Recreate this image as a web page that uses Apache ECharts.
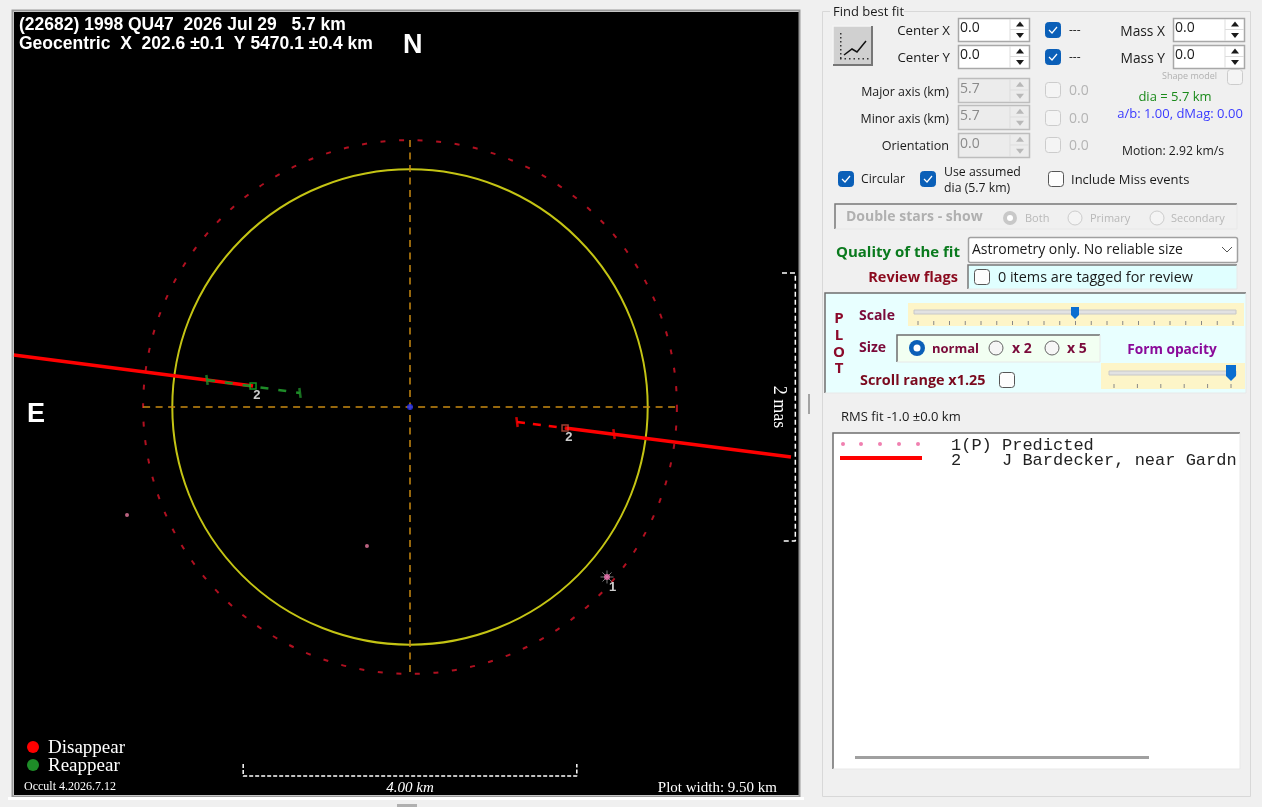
<!DOCTYPE html>
<html><head><meta charset="utf-8">
<style>html,body{margin:0;padding:0;background:#f0f0f0;overflow:hidden}#c{width:1262px;height:807px}</style>
<script src="https://cdn.jsdelivr.net/npm/echarts@6/dist/echarts.min.js"></script>
</head><body><div id="c"></div>
<script>
// ---- data, in km from the asteroid centre (x east-negative on screen, y north-up) ----
var circleRadii = [[0,0,2.85],[0,0,3.2]];
var crossH = [[-3.2,0],[3.2,0]];
var crossV = [[0,3.2],[0,-3.2]];
var leftSolid = [[-4.75,0.624],[-1.882,0.252]];
var leftDashed = [[-2.434,0.324],[-1.319,0.168]];
var rightDashed = [[1.283,-0.18],[1.859,-0.252]];
var rightSolid = [[1.859,-0.252],[4.568,-0.6]];
var reappearTicks = [[-2.434,0.324],[-1.319,0.168]];
var disappearTicks = [[1.283,-0.18],[2.446,-0.324]];
var reappearPoint = [[-1.882,0.252]];
var disappearPoint = [[1.859,-0.252]];
var extraDots = [[-3.393,-1.295],[-0.516,-1.667]];
var predicted = [[2.362,-2.038]];
var centre = [[0,0]];
var scaleBar = [[-2,-4.28],[-2,-4.424],[2,-4.424],[2,-4.28]];
var masBar = [[4.46,1.607],[4.62,1.607],[4.62,-1.607],[4.46,-1.607]];

var FONT = '"Open Sans","Noto Sans",sans-serif';
var g = [];
function T(t,x,y,o){o=o||{};var dy=o.f?0:1;g.push({type:'text',z:o.z||20,silent:true,x:x,y:y+dy,rotation:o.rot||0,style:{text:t,x:0,y:0,
  font:(o.w||'normal')+' '+(o.s||13)+'px '+(o.f||FONT),fill:o.c||'#1a1a1a',textAlign:o.a||'left',textVerticalAlign:'middle'}});}
function R(x,y,w,h,fill,stroke,lw,r){g.push({type:'rect',z:5,silent:true,shape:{x:x,y:y,width:w,height:h,r:r||0},style:{fill:fill||'none',stroke:stroke||'none',lineWidth:lw||1}});}
function L(pts,c,lw,z){g.push({type:'polyline',z:z||6,silent:true,shape:{points:pts},style:{stroke:c,lineWidth:lw||1,fill:'none'}});}
function C(x,y,r,fill,stroke,lw){g.push({type:'circle',z:6,silent:true,shape:{cx:x,cy:y,r:r},style:{fill:fill||'none',stroke:stroke||'none',lineWidth:lw||1}});}
function sunk(x,y,w,h,fill,c){R(x,y,w,h,fill);L([[x,y+h],[x,y],[x+w,y]],c||'#6e6e6e',1.5);L([[x+w,y],[x+w,y+h],[x,y+h]],'#e8e8e8',1);}
function check(x,y,on,dis){var s=15;R(x+.5,y+.5,s,s,on?'#0a5fb8':(dis?'#f4f4f4':'#fdfdfd'),on?'#0a5fb8':(dis?'#cccccc':'#555'),1,3);
  if(on)L([[x+4,y+8],[x+7,y+11],[x+12,y+5]],'#fff',1.2,7);}
function radio(x,y,on,dis){if(on&&dis){C(x,y,7,'#c8c8c8');C(x,y,3,'#fff');}
  else if(on){C(x,y,8,'#0a5fb8');C(x,y,3.5,'#fff');}
  else C(x,y,7,dis?'#f4f4f4':'#f6f6f6',dis?'#cccccc':'#666',1);}
function tri(x,y,up,c){g.push({type:'polygon',z:7,silent:true,shape:{points:up?[[x-4,y+2],[x+4,y+2],[x,y-3]]:[[x-4,y-2],[x+4,y-2],[x,y+3]]},style:{fill:c}});}
function spin(x,y,h,val,dis){R(x+.5,y+.5,71,h,dis?'#ececec':'#fff',dis?'#bdbdbd':'#a8a8a8',1.5);
  L([[x+52,y+1],[x+52,y+h]],'#dddddd',1);L([[x+52,y+h/2],[x+71,y+h/2]],'#dddddd',1);
  var c=dis?'#b8b8b8':'#1a1a1a';tri(x+62,y+h*.28,true,c);tri(x+62,y+h*.74,false,c);
  T(val,x+2,y+h/2-2,{c:dis?'#8a8a8a':'#1a1a1a',s:14});}

// --- plot frame ---
R(12.5,10.5,787,786,'none','#9a9a9a',2);
L([[8,798.5],[804,798.5]],'#ffffff',3);
L([[809,394],[809,414]],'#8a8a8a',1.5);
R(397,804,20,3,'#b0b0b0');
// plot texts
var PW={c:'#fff',w:'bold',f:'"Liberation Sans",sans-serif',s:17.5,z:30};
T('(22682) 1998 QU47  2026 Jul 29   5.7 km',19,25,PW);
T('Geocentric  X  202.6 ±0.1  Y 5470.1 ±0.4 km',19,44,PW);
T('N',403,46,{c:'#fff',w:'bold',f:'"Liberation Sans",sans-serif',s:27,z:30});
T('E',27,415,{c:'#fff',w:'bold',f:'"Liberation Sans",sans-serif',s:27,z:30});
var SF='"Liberation Serif",serif';
g.push({type:'circle',z:30,silent:true,shape:{cx:33,cy:747,r:6},style:{fill:'#ff0000'}});
g.push({type:'circle',z:30,silent:true,shape:{cx:33,cy:765,r:6},style:{fill:'#1e8c28'}});
T('Disappear',48,748,{c:'#fff',f:SF,s:19,z:30});
T('Reappear',48,766,{c:'#fff',f:SF,s:19,z:30});
T('Occult 4.2026.7.12',24,787,{c:'#fff',f:SF,s:12,z:30});
T('4.00 km',410,788,{c:'#fff',f:SF,s:15,z:30,a:'center',w:'italic'});
T('Plot width: 9.50 km',777,788,{c:'#fff',f:SF,s:15,z:30,a:'right'});
T('2 mas',779,407,{c:'#fff',f:SF,s:18,z:30,a:'center',rot:-Math.PI/2});

// --- right panel ---
R(822.5,11.5,428,785,'none','#d8d8d8',1);
R(830,4,74,14,'#f0f0f0');
T('Find best fit',833,11,{s:13});
// fit button
R(833,26,39,39,'#d0d0d0');L([[833,65],[833,26],[872,26]],'#f4f4f4',1.5);L([[872,26],[872,65],[833,65]],'#777',2);
L([[844,55],[852,49],[857,52],[866,41]],'#111',1.5);
for(var i=0;i<7;i++){R(840+i*4.5,58,1.5,1.5,'#333');R(840,33+i*4,1.5,1.5,'#333');}
// spin row
T('Center X',950,30,{a:'right',s:13.3});T('Center Y',950,57,{a:'right',s:13.3});
spin(958,18,23,'0.0');spin(958,45,23,'0.0');
check(1045,22,true);check(1045,49,true);T('---',1069,30,{s:12});T('---',1069,57,{s:12});
T('Mass X',1165,31,{a:'right',s:13.8});T('Mass Y',1165,58,{a:'right',s:13.8});
spin(1173,18,23,'0.0');spin(1173,45,23,'0.0');
T('Shape model',1217,75,{a:'right',s:9,c:'#b0b0b0'});check(1227,69,false,true);
T('Major axis (km)',949,91,{a:'right',s:12.4});T('Minor axis (km)',949,118,{a:'right',s:12.4});T('Orientation',949,145,{a:'right',s:12.6});
spin(958,78,24,'5.7',true);spin(958,105,24,'5.7',true);spin(958,133,24,'0.0',true);
[82,110,137].forEach(function(y){check(1045,y,false,true);T('0.0',1069,y+8,{s:14,c:'#b4b4b4'});});
T('dia = 5.7 km',1175,96,{a:'center',s:13,c:'#1a8a1a'});
T('a/b: 1.00, dMag: 0.00',1180,113,{a:'center',s:13,c:'#3a3aff'});
T('Motion: 2.92 km/s',1173,151,{a:'center',s:12.2});
check(838,171,true);T('Circular',861,179,{s:12.2});
check(920,171,true);T('Use assumed',944,171,{s:12.3});T('dia (5.7 km)',944,187,{s:12.3});
check(1048,171,false);T('Include Miss events',1071,179,{s:13});
// double stars
sunk(835,204,402,25,'#f0f0f0','#777');
T('Double stars - show',846,216,{w:'bold',s:14,c:'#b0b0b0'});
radio(1010,218,true,true);T('Both',1025,218,{s:11,c:'#b8b8b8'});
radio(1075,218,false,true);T('Primary',1090,218,{s:11,c:'#b8b8b8'});
radio(1157,218,false,true);T('Secondary',1171,218,{s:11,c:'#b8b8b8'});
// quality
T('Quality of the fit',836,252,{w:'bold',s:15,c:'#0a7a1e'});
R(968.5,237.5,269,25,'#fff','#a0a0a0',1.5,2);
T('Astrometry only. No reliable size',972,249,{s:14});
L([[1222,247],[1227,252],[1232,247]],'#555',1);
T('Review flags',958,277,{a:'right',w:'bold',s:14.5,c:'#8b0a1e'});
sunk(968,265,269,24,'#e0ffff','#777');check(974,269,false);
T('0 items are tagged for review',998,277,{s:14.4});
// PLOT panel
sunk(825,293,421,100,'#e8ffff','#6e6e6e');
[['P',318],['L',335],['O',352],['T',368]].forEach(function(p){T(p[0],839,p[1],{a:'center',w:'bold',s:15,c:'#8b0a2a'});});
T('Scale',859,315,{w:'bold',s:14,c:'#7a0a3a'});
R(908,303,336,23,'#fdf5c8');R(914,310,322,4,'#e2e2e2','#c8c8c8',1);
for(i=0;i<21;i++)L([[918+i*15.75,321],[918+i*15.75,325]],'#888',1);
g.push({type:'polygon',z:8,silent:true,shape:{points:[[1071,307],[1079,307],[1079,315],[1075,319],[1071,315]]},style:{fill:'#0a6ed1'}});
T('Size',859,347,{w:'bold',s:14,c:'#7a0a3a'});
sunk(897,335,203,27,'#f2fff2','#6e6e6e');
radio(917,348,true);T('normal',932,348,{w:'bold',s:13,c:'#7a0a3a'});
radio(996,348,false);T('x 2',1012,348,{w:'bold',s:14,c:'#7a0a3a'});
radio(1052,348,false);T('x 5',1067,348,{w:'bold',s:14,c:'#7a0a3a'});
T('Form opacity',1172,349,{a:'center',w:'bold',s:13.7,c:'#8a0a9a'});
R(1101,363,144,26,'#fdf5c8');R(1109,371,127,4,'#e2e2e2','#c8c8c8',1);
for(i=0;i<6;i++)L([[1114+i*23.4,384],[1114+i*23.4,388]],'#888',1);
g.push({type:'polygon',z:8,silent:true,shape:{points:[[1226,365],[1236,365],[1236,376],[1231,381],[1226,376]]},style:{fill:'#0a6ed1'}});
T('Scroll range x1.25',860,380,{w:'bold',s:14.4,c:'#7a0a1e'});check(999,372,false);
T('RMS fit -1.0 ±0.0 km',841,416,{s:13});
// list
sunk(833,433,407,336,'#ffffff','#6e6e6e');
var MONO='"Liberation Mono",monospace';
T('1(P) Predicted',951,445,{f:MONO,s:17,c:'#222'});
T('2    J Bardecker, near Gardn',951,460,{f:MONO,s:17,c:'#222'});
[843,861,880,899,918].forEach(function(x){C(x,444,2,'#f080b0');});
L([[840,458],[922,458]],'#ff0000',4,8);
R(855,756,294,3,'#a0a0a0');

// --- chart ---
function line(name,data,color,width,dash,z){return {name:name,type:'line',data:data,showSymbol:false,symbol:'none',silent:true,z:z||3,animation:false,
  lineStyle:{color:color,width:width,type:dash||'solid',cap:'butt'}};}
function ring(datum,color,width,dash){return {type:'custom',coordinateSystem:'cartesian2d',data:[datum],silent:true,z:2,animation:false,clip:true,
  renderItem:function(p,api){var c=api.coord([api.value(0),api.value(1)]);var r=api.size([api.value(2),0])[0];
    return {type:'circle',shape:{cx:c[0],cy:c[1],r:r},style:{fill:'none',stroke:color,lineWidth:width,lineDash:dash||null}};}};}
function ticks(data,color){return {type:'scatter',data:data,symbol:'rect',symbolSize:[2.5,10],symbolRotate:7.5,silent:true,z:6,animation:false,itemStyle:{color:color}};}
function box(data,color){return {type:'scatter',data:data,symbol:'rect',symbolSize:6,silent:true,z:7,animation:false,
  itemStyle:{color:'rgba(0,0,0,0)',borderColor:color,borderWidth:1.5},
  label:{show:true,formatter:'2',position:[4,7],color:'#fff',fontWeight:'bold',fontSize:13,fontFamily:'"Liberation Sans",sans-serif'}};}

var option={animation:false,backgroundColor:'#f0f0f0',
  grid:{show:true,left:14,top:12,width:785,height:783,backgroundColor:'#000',borderWidth:0},
  xAxis:{type:'value',min:-4.748,max:4.664,show:false},
  yAxis:{type:'value',min:-4.652,max:4.736,show:false},
  graphic:{elements:g},
  series:[
    ring(circleRadii[0],'#c4c414',2),
    ring(circleRadii[1],'#b01020',2,[5,13.6]),
    line('crossH',crossH,'#c98a12',1.5,[7,5.5]),
    line('crossV',crossV,'#c98a12',1.5,[7,5.5]),
    line('leftSolid',leftSolid,'#ff0000',3.5,null,4),
    line('leftDashed',leftDashed,'#1e8c28',2.5,[8,10],5),
    line('rightDashed',rightDashed,'#ff0000',2.5,[8,8],4),
    line('rightSolid',rightSolid,'#ff0000',3.5,null,4),
    line('scaleBar',scaleBar,'#ffffff',1.5,[4,2],4),
    line('masBar',masBar,'#ffffff',1.5,[5,3],4),
    ticks(reappearTicks,'#1e8c28'),
    ticks(disappearTicks,'#ff0000'),
    box(reappearPoint,'#16b82a'),
    box(disappearPoint,'#c85040'),
    {type:'scatter',data:extraDots,symbol:'circle',symbolSize:4,silent:true,z:5,animation:false,itemStyle:{color:'#e87aa0'}},
    {type:'scatter',data:predicted,symbol:'path://M0 5H10M5 0V10M1.5 1.5L8.5 8.5M1.5 8.5L8.5 1.5',symbolSize:13,silent:true,z:5,animation:false,
      itemStyle:{color:'none',borderColor:'#9a9a9a',borderWidth:1}},
    {type:'scatter',data:predicted,symbol:'circle',symbolSize:6,silent:true,z:6,animation:false,itemStyle:{color:'#f070b0'},
      label:{show:true,formatter:'1',position:[5,7],color:'#fff',fontWeight:'bold',fontSize:13,fontFamily:'"Liberation Sans",sans-serif'}},
    {type:'scatter',data:centre,symbol:'circle',symbolSize:6,silent:true,z:6,animation:false,itemStyle:{color:'#2030ff'}}
  ]};
var chart=echarts.init(document.getElementById('c'),null,{renderer:'canvas',width:1262,height:807});
chart.setOption(option);
</script></body></html>
